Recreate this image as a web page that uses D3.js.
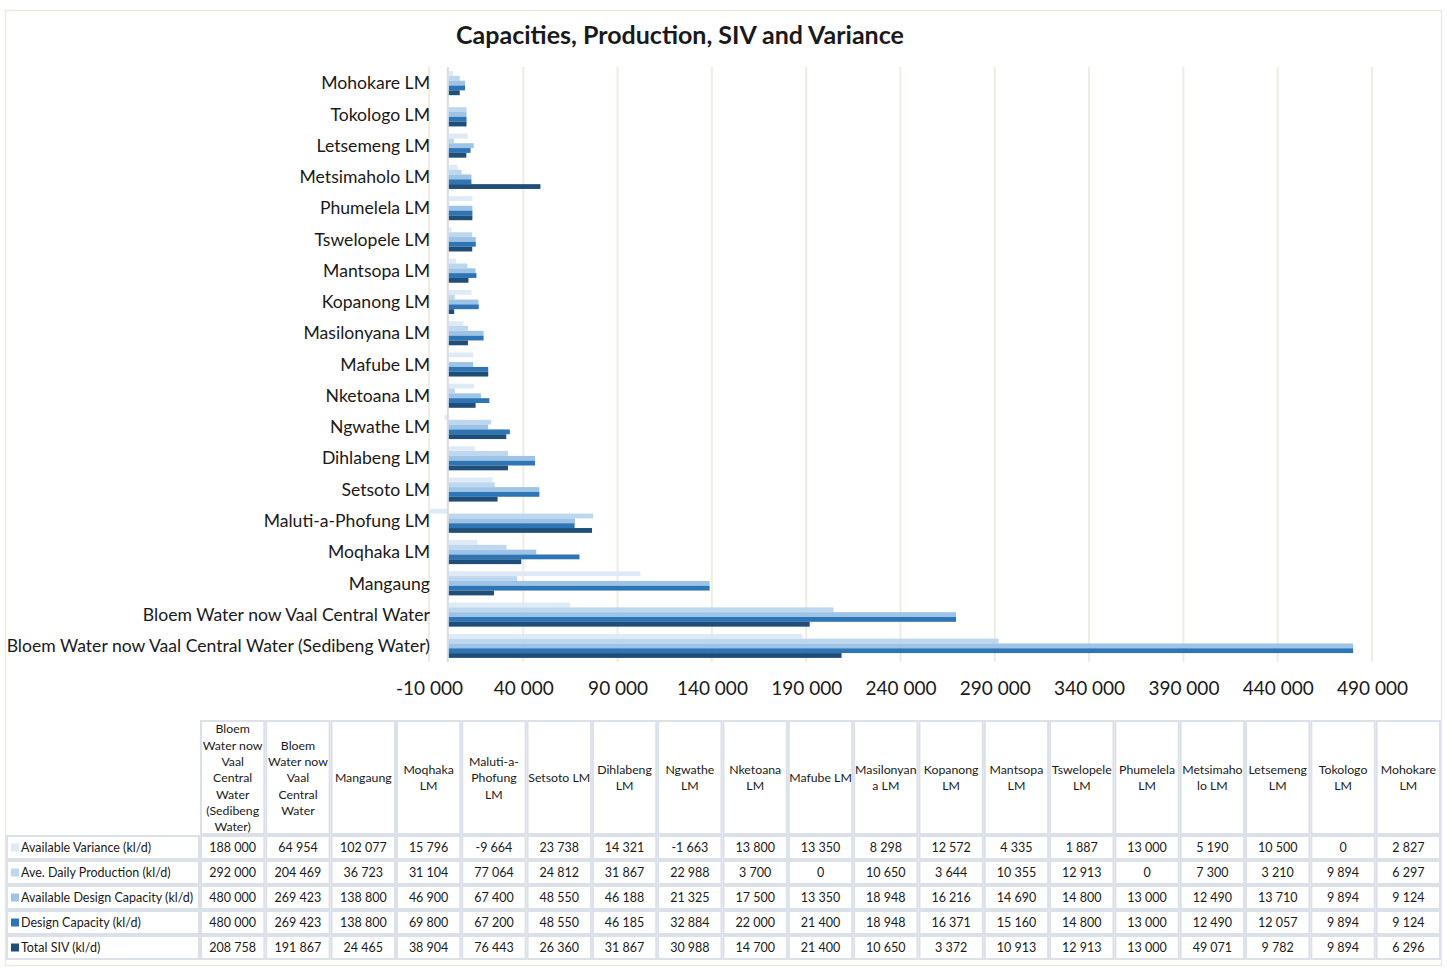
<!DOCTYPE html>
<html><head><meta charset="utf-8">
<script src="https://cdn.jsdelivr.net/npm/d3@7/dist/d3.min.js"></script>
<style>
html,body{margin:0;padding:0;background:#fff;}
text{font-family:Lato,"Open Sans",sans-serif;fill:#1a1a1a;}
</style></head>
<body><svg id="c" width="1447" height="969"></svg>
<script>
const categories = ["Bloem Water now Vaal Central Water (Sedibeng Water)","Bloem Water now Vaal Central Water","Mangaung","Moqhaka LM","Maluti-a-Phofung LM","Setsoto LM","Dihlabeng LM","Ngwathe LM","Nketoana LM","Mafube LM","Masilonyana LM","Kopanong LM","Mantsopa LM","Tswelopele LM","Phumelela LM","Metsimaholo LM","Letsemeng LM","Tokologo LM","Mohokare LM"];
const headerLabels = [["Bloem","Water now","Vaal","Central","Water","(Sedibeng","Water)"],["Bloem","Water now","Vaal","Central","Water"],["Mangaung"],["Moqhaka","LM"],["Maluti-a-","Phofung","LM"],["Setsoto LM"],["Dihlabeng","LM"],["Ngwathe","LM"],["Nketoana","LM"],["Mafube LM"],["Masilonyan","a LM"],["Kopanong","LM"],["Mantsopa","LM"],["Tswelopele","LM"],["Phumelela","LM"],["Metsimaho","lo LM"],["Letsemeng","LM"],["Tokologo","LM"],["Mohokare","LM"]];
const seriesNames = ["Available Variance (kl/d)","Ave. Daily Production (kl/d)","Available Design  Capacity (kl/d)","Design Capacity (kl/d)","Total SIV  (kl/d)"];
const availableVariance = [188000,64954,102077,15796,-9664,23738,14321,-1663,13800,13350,8298,12572,4335,1887,13000,5190,10500,0,2827];
const aveDailyProduction = [292000,204469,36723,31104,77064,24812,31867,22988,3700,0,10650,3644,10355,12913,0,7300,3210,9894,6297];
const availableDesignCapacity = [480000,269423,138800,46900,67400,48550,46188,21325,17500,13350,18948,16216,14690,14800,13000,12490,13710,9894,9124];
const designCapacity = [480000,269423,138800,69800,67200,48550,46185,32884,22000,21400,18948,16371,15160,14800,13000,12490,12057,9894,9124];
const totalSIV = [208758,191867,24465,38904,76443,26360,31867,30988,14700,21400,10650,3372,10913,12913,13000,49071,9782,9894,6296];
const tickValues = [-10000,40000,90000,140000,190000,240000,290000,340000,390000,440000,490000];
const colors = ["#DEEBF7","#BDD7EE","#9DC3E6","#2E75B6","#1F4E79"];
const seriesValues = [availableVariance,aveDailyProduction,availableDesignCapacity,designCapacity,totalSIV];

const svg = d3.select("#c");
const loc = d3.formatLocale({decimal:".",thousands:" ",grouping:[3],currency:["",""],minus:"-"});
const fmt = loc.format(",");

// outer border
svg.append("rect").attr("x",5.5).attr("y",10.5).attr("width",1436).attr("height",955)
  .attr("fill","#fff").attr("stroke","#ECEADF").attr("stroke-width",1.5);

// title
svg.append("text").attr("x",680).attr("y",44).attr("text-anchor","middle")
  .attr("font-size",25).attr("font-weight","bold").attr("fill","#000").text("Capacities, Production, SIV and Variance");

const x = d3.scaleLinear().domain([-10000,490000]).range([429,1372]);
const y = d3.scaleBand().domain(categories.slice().reverse()).range([67.5,661.5]).paddingInner(0.23).paddingOuter(0.115);
const ys = d3.scaleBand().domain(d3.range(5)).range([0,y.bandwidth()]);

// gridlines
svg.append("g").selectAll("line").data(tickValues).join("line")
  .attr("x1",d=>x(d)).attr("x2",d=>x(d)).attr("y1",67).attr("y2",662)
  .attr("stroke","#EFECE3").attr("stroke-width",2);

// bars
const groups = svg.append("g").selectAll("g").data(categories).join("g")
  .attr("transform",c=>`translate(0,${y(c)})`);
groups.selectAll("rect").data((c,i)=>seriesValues.map((s,k)=>({k,v:s[i]}))).join("rect")
  .attr("x",d=>x(Math.min(0,d.v))).attr("width",d=>Math.abs(x(d.v)-x(0)))
  .attr("y",d=>ys(d.k)).attr("height",ys.bandwidth())
  .attr("fill",d=>colors[d.k]);

// zero axis line
svg.append("line").attr("x1",x(0)).attr("x2",x(0)).attr("y1",67).attr("y2",662)
  .attr("stroke","#D9DCE3").attr("stroke-width",2);

// category labels
svg.append("g").selectAll("text").data(categories).join("text")
  .attr("x",430).attr("y",c=>y(c)+y.bandwidth()/2).attr("dy","0.35em")
  .attr("text-anchor","end").attr("font-size",17.6).text(c=>c);

// x axis
const ax = svg.append("g").attr("transform","translate(0,681)")
  .call(d3.axisBottom(x).tickValues(tickValues).tickFormat(fmt).tickSize(0).tickPadding(0));
ax.select(".domain").remove();
ax.selectAll("text").attr("font-size",19).attr("font-family","Lato,sans-serif").attr("fill","#1a1a1a").attr("dy","0.71em");

// data table
const tx = d3.scaleBand().domain(categories).range([200,1441]);
const rowTop = [835,860,885,910,935];
const rowH = 25;
const border = "#DCE0E8";
const tg = svg.append("g");
tg.selectAll("rect.h").data(categories).join("rect").attr("class","h")
  .attr("x",c=>tx(c)+1).attr("y",721).attr("width",tx.bandwidth()-2).attr("height",113)
  .attr("fill","none").attr("stroke",border).attr("stroke-width",2);
tg.selectAll("text.h").data(categories).join("text").attr("class","h")
  .attr("text-anchor","middle").attr("font-size",12.3)
  .each(function(c,i){
    const lines = headerLabels[i];
    const lh = 16.3;
    const y0 = 778 - (lines.length-1)*lh/2;
    d3.select(this).selectAll("tspan").data(lines).join("tspan")
      .attr("x",tx(c)+tx.bandwidth()/2).attr("y",(d,j)=>y0+j*lh).attr("dy","0.35em").text(d=>d);
  });
seriesNames.forEach((name,k)=>{
  const r = tg.append("g");
  r.append("rect").attr("x",7).attr("y",rowTop[k]+1).attr("width",192).attr("height",rowH-2)
    .attr("fill","none").attr("stroke",border).attr("stroke-width",2);
  r.append("rect").attr("x",11).attr("y",rowTop[k]+rowH/2-4).attr("width",8).attr("height",8).attr("fill",colors[k]);
  r.append("text").attr("x",21).attr("y",rowTop[k]+rowH/2).attr("dy","0.35em").attr("font-size",12.5).text(name);
  r.selectAll("rect.c").data(categories).join("rect").attr("class","c")
    .attr("x",c=>tx(c)+1).attr("y",rowTop[k]+1).attr("width",tx.bandwidth()-2).attr("height",rowH-2)
    .attr("fill","none").attr("stroke",border).attr("stroke-width",2);
  r.selectAll("text.c").data(seriesValues[k]).join("text").attr("class","c")
    .attr("x",(v,i)=>tx(categories[i])+tx.bandwidth()/2).attr("y",rowTop[k]+rowH/2).attr("dy","0.35em")
    .attr("text-anchor","middle").attr("font-size",12.5).text(v=>fmt(v));
});
</script></body></html>
